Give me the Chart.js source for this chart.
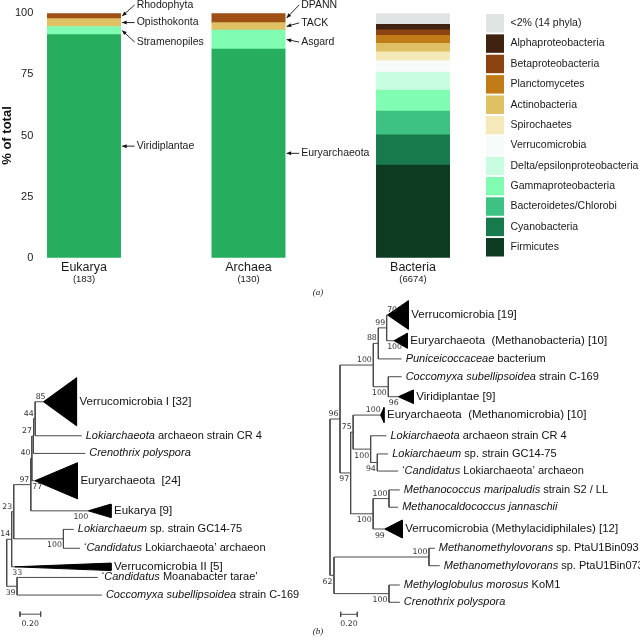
<!DOCTYPE html>
<html>
<head>
<meta charset="utf-8">
<script src="https://cdn.jsdelivr.net/npm/chart.js@4.4.1/dist/chart.umd.min.js"></script>
<style>
  body { margin: 0; background: #fff; }
  #wrap { position: relative; width: 640px; height: 640px; }
  .box { position: absolute; }
  .tag { position: absolute; font: italic 9px "Liberation Serif", serif; line-height: 1; color: #222; transform: translateX(-50%); }
</style>
</head>
<body>
<div id="wrap">
  <div class="box" style="left:0;top:0;width:640px;height:300px"><canvas id="bars"></canvas></div>
  <div class="box" style="left:0;top:360px;width:320px;height:280px"><canvas id="treeL"></canvas></div>
  <div class="box" style="left:320px;top:300px;width:320px;height:340px"><canvas id="treeR"></canvas></div>
  <span class="tag" style="left:318px;top:288px">(a)</span>
  <span class="tag" style="left:318px;top:627px">(b)</span>
</div>
<script>
// ---- (a) composition of each domain, % of total
const domains = ["Eukarya", "Archaea", "Bacteria"];
const domainCounts = ["(183)", "(130)", "(6674)"];

const eukGroups = ["Viridiplantae", "Stramenopiles", "Opisthokonta", "Rhodophyta"];
const eukValues = [91.3, 3.3, 3.2, 2.2];

const arcGroups = ["Euryarchaeota", "Asgard", "TACK", "DPANN"];
const arcValues = [85.4, 7.7, 3.1, 3.8];

const bacGroups = ["Firmicutes", "Cyanobacteria", "Bacteroidetes/Chlorobi", "Gammaproteobacteria",
  "Delta/epsilonproteobacteria", "Verrucomicrobia", "Spirochaetes", "Actinobacteria",
  "Planctomycetes", "Betaproteobacteria", "Alphaproteobacteria", "<2% (14 phyla)"];
const bacValues = [37.9, 12.4, 9.7, 8.6, 7.4, 4.6, 3.6, 3.5, 3.3, 2.2, 2.3, 4.5];

// ---- (b) trees (newick, leaf numbers point into the arrays below)
const leftNewick = "(((((((0:0.08,1:0.45)44:0.016,2:0.50)27:0.016,3:0.03)40:0.01,4:0.555)97:0.165,(5:0.10,6:0.16)100:0.48)23:0.02,7:0.03)14:0.048,(8:0.78,9:0.82)39:0.10)";
const leftLeaves = ["Verrucomicrobia I [32]", "_Lokiarchaeota_ archaeon strain CR 4", "_Crenothrix polyspora_",
  "Euryarchaeota  [24]", "Eukarya [9]", "_Lokiarchaeum_ sp. strain GC14-75",
  "\u2018_Candidatus_ Lokiarchaeota\u2019 archaeon", "Verrucomicrobia II [5]",
  "\u2018_Candidatus_ Moanabacter tarae\u2019", "_Coccomyxa subellipsoidea_ strain C-169"];
const leftRows = [0, 1.89, 2.87, 4.39, 6.06, 7.09, 8.14, 9.17, 9.76, 10.74];
const leftTaxa = [32, 1, 1, 24, 9, 1, 1, 5, 1, 1];
const leftCladeDepth = [0.32, 0, 0, 0.41, 0.22, 0, 0, 0.93, 0, 0];
const leftCladeSupport = [85, null, null, 77, 100, null, null, 33, null, null];

const rightNewick = "((((((0:0.01,1:0.088)99:0.10,2:0.28)88:0.06,(3:0.16,4:0.12)100:0.18)100:0.40,((5:0.33,(6:0.19,(7:0.13,8:0.25)94:0.08)100:0.21)75:0.03,((9:0.13,10:0.11)100:0.19,11:0.14)100:0.27)97:0.128)96:0.12,((12:0.07,13:0.13)100:1.14,(14:0.13,15:0.13)100:0.66)62:0.048)";
const rightLeaves = ["Verrucomicrobia [19]", "Euryarchaeota  (Methanobacteria) [10]", "_Puniceicoccaceae_ bacterium",
  "_Coccomyxa subellipsoidea_ strain C-169", "Viridiplantae [9]", "Euryarchaeota  (Methanomicrobia) [10]",
  "_Lokiarchaeota_ archaeon strain CR 4", "_Lokiarchaeum_ sp. strain GC14-75",
  "\u2018_Candidatus_ Lokiarchaeota\u2019 archaeon", "_Methanococcus maripaludis_ strain S2 / LL",
  "_Methanocaldococcus jannaschii_", "Verrucomicrobia (Methylacidiphilales) [12]",
  "_Methanomethylovorans_ sp. PtaU1Bin093", "_Methanomethylovorans_ sp. PtaU1Bin073",
  "_Methyloglobulus morosus_ KoM1", "_Crenothrix polyspora_"];
const rightRows = [0, 1.43, 2.44, 3.43, 4.54, 5.56, 6.71, 7.72, 8.67, 9.72, 10.68, 11.89, 12.96, 13.93, 15, 15.96];
const rightTaxa = [19, 10, 1, 1, 9, 10, 1, 1, 1, 1, 1, 12, 1, 1, 1, 1];
const rightCladeDepth = [0.25, 0.16, 0, 0, 0.18, 0.04, 0, 0, 0, 0, 0, 0.21, 0, 0, 0, 0];
const rightCladeSupport = [70, 100, null, null, 96, 100, null, null, null, null, null, 99, null, null, null, null];

const scaleBarLength = 0.2;
const scaleBarLabel = "0.20";

// colours
const eukColors = ["#26ad5e", "#80fdb2", "#dfc163", "#9e5016"];
const arcColors = ["#26ad5e", "#80fdb2", "#dfc163", "#9e5016"];
const bacColors = ["#0c3b21", "#177a4c", "#3dc283", "#80fdb2", "#c9fde2", "#f7fbfb",
  "#f5e9ba", "#dfc163", "#c27c17", "#8a4311", "#3f2210", "#e0e4e4"];
const eukLabelShift = [0, 11.5, 0, -11];
const arcLabelShift = [0, 2.5, -3.5, -13];

const SANS = '"Liberation Sans", Arial, sans-serif';

// ---------- bar chart ----------
const barSets = [];
function addGroup(names, values, colors, d, shifts) {
  names.forEach((n, i) => {
    barSets.push({
      label: n, data: [{ x: d, y: values[i] }], backgroundColor: colors[i],
      borderWidth: 0, barThickness: 73.3, domain: d, shift: shifts ? shifts[i] : null
    });
  });
}
addGroup(eukGroups, eukValues, eukColors, 0, eukLabelShift);
addGroup(arcGroups, arcValues, arcColors, 1, arcLabelShift);
addGroup(bacGroups, bacValues, bacColors, 2, null);

const barExtras = {
  id: "barExtras",
  afterDatasetsDraw(chart) {
    const ctx = chart.ctx;
    const area = chart.chartArea;
    const xs = chart.scales.x;
    ctx.save();
    // arrows + labels for Eukarya / Archaea
    chart.data.datasets.forEach((ds, i) => {
      if (ds.shift === null) return;
      const el = chart.getDatasetMeta(i).data[0];
      const p = el.getProps(["x", "y", "base", "width"], true);
      const right = p.x + p.width / 2;
      const midY = (p.y + p.base) / 2;
      const tipX = right + 1.5, tailX = right + 14, tailY = midY + ds.shift;
      ctx.strokeStyle = "#111";
      ctx.fillStyle = "#111";
      ctx.lineWidth = 0.9;
      ctx.beginPath();
      ctx.moveTo(tailX, tailY);
      ctx.lineTo(tipX, midY);
      ctx.stroke();
      const ang = Math.atan2(midY - tailY, tipX - tailX);
      ctx.beginPath();
      ctx.moveTo(tipX, midY);
      ctx.lineTo(tipX - 4.5 * Math.cos(ang) + 2 * Math.sin(ang), midY - 4.5 * Math.sin(ang) - 2 * Math.cos(ang));
      ctx.lineTo(tipX - 4.5 * Math.cos(ang) - 2 * Math.sin(ang), midY - 4.5 * Math.sin(ang) + 2 * Math.cos(ang));
      ctx.closePath();
      ctx.fill();
      ctx.font = "10.5px " + SANS;
      ctx.textAlign = "left";
      ctx.textBaseline = "middle";
      ctx.fillStyle = "#1a1a1a";
      ctx.fillText(ds.label, tailX + 2, tailY);
    });
    // domain names under bars
    ctx.textAlign = "center";
    ctx.fillStyle = "#1a1a1a";
    domains.forEach((d, i) => {
      const x = xs.getPixelForValue(i);
      ctx.font = "12.5px " + SANS;
      ctx.fillText(d, x, area.bottom + 9.5);
      ctx.font = "9.5px " + SANS;
      ctx.fillText(domainCounts[i], x, area.bottom + 21.5);
    });
    // legend for bacterial phyla
    const pitch = (area.bottom - area.top) / bacGroups.length;
    for (let k = 0; k < bacGroups.length; k++) {
      const j = bacGroups.length - 1 - k;
      const top = area.top + k * pitch + 0.7;
      ctx.fillStyle = bacColors[j];
      ctx.fillRect(486, top, 18, pitch - 1.9);
      ctx.fillStyle = "#1a1a1a";
      ctx.font = "10.5px " + SANS;
      ctx.textAlign = "left";
      ctx.fillText(bacGroups[j], 510.5, top + (pitch - 1.9) / 2);
    }
    ctx.restore();
  }
};

new Chart(document.getElementById("bars"), {
  type: "bar",
  data: { datasets: barSets },
  options: {
    responsive: true, maintainAspectRatio: false, animation: false, events: [],
    layout: { padding: { top: 13.3, right: 170, bottom: 42.3, left: 0 } },
    plugins: { legend: { display: false }, tooltip: { enabled: false } },
    scales: {
      x: { type: "linear", stacked: true, display: false, offset: false, min: -0.2675, max: 2.3465 },
      y: {
        stacked: true, min: 0, max: 100,
        afterFit: s => { s.width = 40; },
        grid: { display: false, drawTicks: false }, border: { display: false },
        ticks: { stepSize: 25, padding: 6.7, color: "#222", font: { family: SANS, size: 11 } },
        title: { display: true, text: "% of total", padding: 0, color: "#111", font: { family: SANS, size: 13, weight: "bold" } }
      }
    }
  },
  plugins: [barExtras]
});

// ---------- trees ----------
function parseNewick(s) {
  let i = 0;
  function node() {
    const n = { children: [] };
    if (s[i] === "(") {
      i++;
      n.children.push(node());
      while (s[i] === ",") { i++; n.children.push(node()); }
      i++;
    }
    let tok = "";
    while (i < s.length && ":,()".indexOf(s[i]) < 0) tok += s[i++];
    n.len = 0;
    if (s[i] === ":") {
      i++;
      let l = "";
      while (i < s.length && ",()".indexOf(s[i]) < 0) l += s[i++];
      n.len = parseFloat(l);
    }
    if (n.children.length) n.support = tok ? Number(tok) : null;
    else n.leaf = Number(tok);
    return n;
  }
  return node();
}

function layout(n, depth, rows) {
  n.x = depth + n.len;
  if (n.children.length) {
    n.children.forEach(c => { c.parent = n; layout(c, n.x, rows); });
    n.y = (n.children[0].y + n.children[n.children.length - 1].y) / 2;
  } else {
    n.y = rows[n.leaf];
  }
}

function richText(ctx, str, x, y, size) {
  str.split("_").forEach((part, i) => {
    ctx.font = (i % 2 ? "italic " : "") + size + "px " + SANS;
    ctx.fillText(part, x, y);
    x += ctx.measureText(part).width;
  });
}

function makeTree(id, t, view) {
  const root = parseNewick(t.newick);
  layout(root, 0, t.rows);
  const nodes = [];
  (function walk(n) { nodes.push(n); n.children.forEach(walk); })(root);

  const lines = [];
  const tris = [];
  nodes.forEach(n => {
    if (n.parent) lines.push({ x: n.parent.x, y: n.y }, { x: n.x, y: n.y }, { x: null, y: null });
    if (n.children.length) {
      lines.push({ x: n.x, y: n.children[0].y }, { x: n.x, y: n.children[n.children.length - 1].y }, { x: null, y: null });
    } else if (t.taxa[n.leaf] > 1) {
      const h = t.taxa[n.leaf] / 24;
      const bx = n.x + t.depth[n.leaf];
      tris.push([{ x: n.x, y: n.y }, { x: bx, y: n.y - h }, { x: bx, y: n.y + h }, { x: n.x, y: n.y }]);
    }
  });

  const s0 = view.barStart, r = view.barRow;
  const bar = [{ x: s0, y: r }, { x: s0 + scaleBarLength, y: r }, { x: null, y: null },
    { x: s0, y: r - 0.14 }, { x: s0, y: r + 0.14 }, { x: null, y: null },
    { x: s0 + scaleBarLength, y: r - 0.14 }, { x: s0 + scaleBarLength, y: r + 0.14 }];

  const datasets = [
    { data: lines, showLine: true, spanGaps: false, borderColor: "#4a4a4a", borderWidth: 1, pointRadius: 0, clip: false },
    { data: bar, showLine: true, spanGaps: false, borderColor: "#4a4a4a", borderWidth: 1, pointRadius: 0, clip: false }
  ];
  tris.forEach(tr => datasets.push({
    data: tr, showLine: true, fill: "shape", backgroundColor: "#000", borderColor: "#000",
    borderWidth: 1, pointRadius: 0, clip: false
  }));

  const treeText = {
    id: "treeText",
    afterDatasetsDraw(chart) {
      const ctx = chart.ctx, xs = chart.scales.x, ys = chart.scales.y;
      ctx.save();
      ctx.textBaseline = "middle";
      nodes.forEach(n => {
        const upper = n.parent && n.parent.children[0] === n;
        const dy = upper ? -5 : 6.5;
        if (n.children.length) {
          if (n.support !== null && n.parent) {
            ctx.font = "7.8px \"DejaVu Sans\", sans-serif";
            ctx.fillStyle = "#333";
            ctx.textAlign = "right";
            ctx.fillText(String(n.support), xs.getPixelForValue(n.x) - 1.5, ys.getPixelForValue(n.y) + dy);
          }
          return;
        }
        const k = n.leaf;
        const clade = t.taxa[k] > 1;
        const tipX = xs.getPixelForValue(n.x + (clade ? t.depth[k] : 0));
        ctx.fillStyle = "#111";
        ctx.textAlign = "left";
        richText(ctx, t.names[k], tipX + (clade ? 3 : 4), ys.getPixelForValue(n.y), clade ? 11.5 : 11);
        if (t.support[k] !== null) {
          ctx.font = "7.8px \"DejaVu Sans\", sans-serif";
          ctx.fillStyle = "#333";
          const label = String(t.support[k]);
          const w = ctx.measureText(label).width;
          let left = xs.getPixelForValue(n.x) - w;
          left = Math.max(left, xs.getPixelForValue(n.parent.x) + 0.5);
          ctx.textAlign = "left";
          ctx.fillText(label, left, ys.getPixelForValue(n.y) + dy);
        }
      });
      ctx.font = "7.8px \"DejaVu Sans\", sans-serif";
      ctx.fillStyle = "#333";
      ctx.textAlign = "center";
      ctx.fillText(scaleBarLabel, xs.getPixelForValue(s0 + scaleBarLength / 2), ys.getPixelForValue(r) + 10);
      ctx.restore();
    }
  };

  new Chart(document.getElementById(id), {
    type: "scatter",
    data: { datasets },
    options: {
      responsive: true, maintainAspectRatio: false, animation: false, events: [],
      layout: { padding: 0 },
      plugins: { legend: { display: false }, tooltip: { enabled: false } },
      scales: {
        x: { type: "linear", display: false, min: view.xmin, max: view.xmax },
        y: { type: "linear", display: false, reverse: true, min: view.ymin, max: view.ymax }
      }
    },
    plugins: [treeText]
  });
}

makeTree("treeL",
  { newick: leftNewick, names: leftLeaves, rows: leftRows, taxa: leftTaxa, depth: leftCladeDepth, support: leftCladeSupport },
  { xmin: -0.0647, xmax: 3.027, ymin: -2.32, ymax: 13.236, barStart: 0.128, barRow: 11.8 });

makeTree("treeR",
  { newick: rightNewick, names: rightLeaves, rows: rightRows, taxa: rightTaxa, depth: rightCladeDepth, support: rightCladeSupport },
  { xmin: -0.12, xmax: 3.7215, ymin: -0.833, ymax: 18.056, barStart: 0.128, barRow: 16.63 });
</script>
</body>
</html>
